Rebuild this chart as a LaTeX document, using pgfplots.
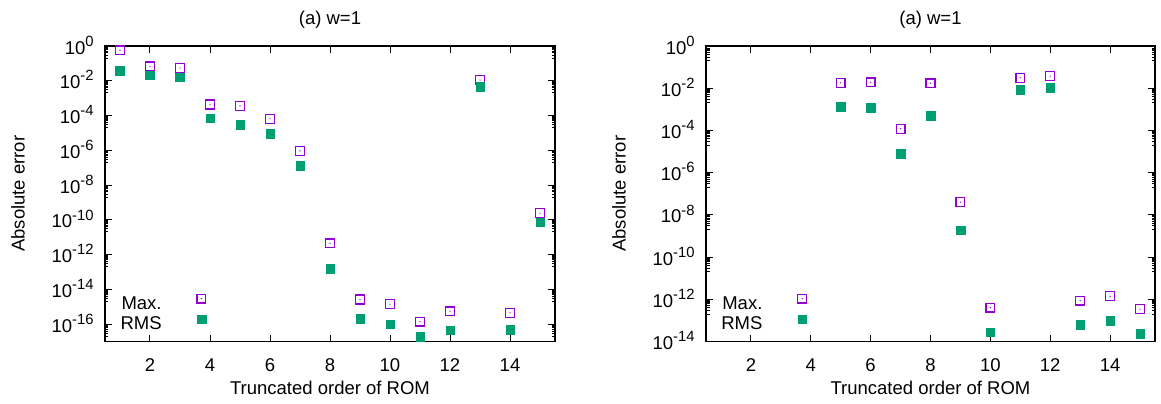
\documentclass[border=0pt]{standalone}
\usepackage{fontspec}
\setmainfont{Liberation Sans}
\usepackage{pgfplots}
\pgfplotsset{compat=1.18}

\definecolor{maxc}{HTML}{9400D3}
\definecolor{rmsc}{HTML}{009E73}

% open square with a dot in its centre
\pgfdeclareplotmark{dotsquare}{%
  \pgfpathrectangle{\pgfpoint{-\pgfplotmarksize}{-\pgfplotmarksize}}%
                   {\pgfpoint{2\pgfplotmarksize}{2\pgfplotmarksize}}%
  \pgfusepathqstroke
  \pgfpathcircle{\pgfpointorigin}{0.35pt}%
  \pgfusepathqfill}

\newcommand\decade[1]{10\raisebox{0.42em}{\fontsize{7.4}{8}\selectfont #1}}

\begin{document}
\fontsize{9.25}{11}\selectfont
\begin{tikzpicture}
\useasboundingbox (0,0) rectangle (580.5pt,201.5pt);

\begin{axis}[
  scale only axis, anchor=south west,
  at={(52.5pt,30.75pt)}, width=225pt, height=147.75pt,
  xmin=0.5, xmax=15.5,
  ymode=log, ymin=1e-17, ymax=1,
  xtick={2,4,...,14},
  ytick={1,1e-2,1e-4,1e-6,1e-8,1e-10,1e-12,1e-14,1e-16},
  yticklabels={\decade{0},\decade{-2},\decade{-4},\decade{-6},\decade{-8},\decade{-10},\decade{-12},\decade{-14},\decade{-16}},
  minor ytick={2e-1,3e-1,4e-1,5e-1,6e-1,7e-1,8e-1,9e-1,
    2e-3,3e-3,4e-3,5e-3,6e-3,7e-3,8e-3,9e-3,
    2e-5,3e-5,4e-5,5e-5,6e-5,7e-5,8e-5,9e-5,
    2e-7,3e-7,4e-7,5e-7,6e-7,7e-7,8e-7,9e-7,
    2e-9,3e-9,4e-9,5e-9,6e-9,7e-9,8e-9,9e-9,
    2e-11,3e-11,4e-11,5e-11,6e-11,7e-11,8e-11,9e-11,
    2e-13,3e-13,4e-13,5e-13,6e-13,7e-13,8e-13,9e-13,
    2e-15,3e-15,4e-15,5e-15,6e-15,7e-15,8e-15,9e-15,
    2e-17,3e-17,4e-17,5e-17,6e-17,7e-17,8e-17,9e-17},
  /pgf/number format/assume math mode=true,
  axis line style={line width=0.75pt},
  every tick/.style={black, line width=0.5pt},
  major tick length=3.5pt, minor tick length=1.75pt,
  xticklabel style={anchor=center, inner sep=0pt, yshift=-12pt},
  yticklabel style={anchor=base east, inner sep=0pt, xshift=-5.5pt, yshift=-4pt},
  title={(a) w=1},
  title style={at={(0.5,1)}, anchor=center, inner sep=0pt, yshift=7.25pt},
  xlabel={Truncated order of ROM},
  xlabel style={at={(axis description cs:0.5,-0.1557)}, anchor=center, inner sep=0pt},
  ylabel={Absolute error},
  ylabel style={at={(axis description cs:-0.1933,0.5)}, anchor=center, inner sep=0pt},
  legend cell align=right,
  legend plot pos=right,
  legend image code/.code={\path (-19.7pt,0pt) (2.6pt,0pt);
    \draw[#1] plot coordinates {(0pt,3.3pt)};},
  legend style={draw=none, fill=none, at={(0.2276,0.0203)}, anchor=south east,
    inner sep=0pt, column sep=0pt, row sep=0pt,
    nodes={inner sep=0pt, text height=6.8pt, text depth=2.7pt}},
]
\addplot[only marks, color=maxc, mark=dotsquare, mark size=2.2pt,
    mark options={line width=0.65pt}] coordinates {
  (1,0.56) (2,0.066) (3,0.054) (4,4.3e-4) (5,3.6e-4) (6,6.5e-5) (7,9.3e-7)
  (8,4.4e-12) (9,2.6e-15) (10,1.4e-15) (11,1.4e-16) (12,5.5e-16) (13,0.011)
  (14,4.5e-16) (15,2.4e-10)};
\addlegendentry{Max.}
\addplot[only marks, color=rmsc, mark=square*, mark size=2.15pt,
    mark options={line width=0.2pt}] coordinates {
  (1,0.038) (2,0.021) (3,0.016) (4,7.1e-5) (5,2.9e-5) (6,8.8e-6) (7,1.26e-7)
  (8,1.6e-13) (9,2.1e-16) (10,9.8e-17) (11,1.9e-17) (12,4.4e-17) (13,4.4e-3)
  (14,4.9e-17) (15,7.5e-11)};
\addlegendentry{RMS}
\end{axis}

\begin{axis}[
  scale only axis, anchor=south west,
  at={(353pt,30.75pt)}, width=224.5pt, height=147.75pt,
  xmin=0.5, xmax=15.5,
  ymode=log, ymin=1e-14, ymax=1,
  xtick={2,4,...,14},
  ytick={1,1e-2,1e-4,1e-6,1e-8,1e-10,1e-12,1e-14},
  yticklabels={\decade{0},\decade{-2},\decade{-4},\decade{-6},\decade{-8},\decade{-10},\decade{-12},\decade{-14}},
  minor ytick={2e-1,3e-1,4e-1,5e-1,6e-1,7e-1,8e-1,9e-1,
    2e-3,3e-3,4e-3,5e-3,6e-3,7e-3,8e-3,9e-3,
    2e-5,3e-5,4e-5,5e-5,6e-5,7e-5,8e-5,9e-5,
    2e-7,3e-7,4e-7,5e-7,6e-7,7e-7,8e-7,9e-7,
    2e-9,3e-9,4e-9,5e-9,6e-9,7e-9,8e-9,9e-9,
    2e-11,3e-11,4e-11,5e-11,6e-11,7e-11,8e-11,9e-11,
    2e-13,3e-13,4e-13,5e-13,6e-13,7e-13,8e-13,9e-13},
  /pgf/number format/assume math mode=true,
  axis line style={line width=0.75pt},
  every tick/.style={black, line width=0.5pt},
  major tick length=3.5pt, minor tick length=1.75pt,
  xticklabel style={anchor=center, inner sep=0pt, yshift=-12pt},
  yticklabel style={anchor=base east, inner sep=0pt, xshift=-5.5pt, yshift=-4pt},
  title={(a) w=1},
  title style={at={(0.5,1)}, anchor=center, inner sep=0pt, yshift=7.25pt},
  xlabel={Truncated order of ROM},
  xlabel style={at={(axis description cs:0.5,-0.1557)}, anchor=center, inner sep=0pt},
  ylabel={Absolute error},
  ylabel style={at={(axis description cs:-0.1938,0.5)}, anchor=center, inner sep=0pt},
  legend cell align=right,
  legend plot pos=right,
  legend image code/.code={\path (-19.7pt,0pt) (2.6pt,0pt);
    \draw[#1] plot coordinates {(0pt,3.3pt)};},
  legend style={draw=none, fill=none, at={(0.2276,0.0203)}, anchor=south east,
    inner sep=0pt, column sep=0pt, row sep=0pt,
    nodes={inner sep=0pt, text height=6.8pt, text depth=2.7pt}},
]
\addplot[only marks, color=maxc, mark=dotsquare, mark size=2.2pt,
    mark options={line width=0.65pt}] coordinates {
  (5,0.018) (6,0.019) (7,1.2e-4) (8,0.017) (9,4e-8) (10,4e-13) (11,0.031)
  (12,0.037) (13,8.7e-13) (14,1.4e-12) (15,3.4e-13)};
\addlegendentry{Max.}
\addplot[only marks, color=rmsc, mark=square*, mark size=2.15pt,
    mark options={line width=0.2pt}] coordinates {
  (5,1.3e-3) (6,1.2e-3) (7,7.8e-6) (8,4.9e-4) (9,1.9e-9) (10,2.8e-14) (11,8.4e-3)
  (12,0.0105) (13,6.1e-14) (14,9.5e-14) (15,2.4e-14)};
\addlegendentry{RMS}
\end{axis}
\end{tikzpicture}
\end{document}
